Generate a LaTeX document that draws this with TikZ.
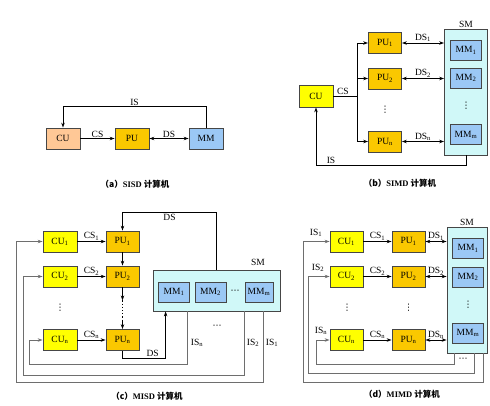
\documentclass[tikz,border=0pt]{standalone}
\usepackage{fontspec}
\setmainfont{Liberation Serif}
\newfontfamily\cjk{Noto Sans CJK SC}
\newfontfamily\symf{DejaVu Sans}
\usetikzlibrary{arrows.meta}
\definecolor{cuorange}{RGB}{255,200,150}
\definecolor{puyellow}{RGB}{250,200,0}
\definecolor{cuyellow}{RGB}{255,255,0}
\definecolor{mmblue}{RGB}{155,200,245}
\definecolor{smcyan}{RGB}{208,248,248}
\definecolor{edge}{RGB}{70,70,70}
\definecolor{back}{RGB}{110,110,110}
\newcommand{\ix}[1]{\textsubscript{#1}}
\newcommand{\vdot}{{\symf ⋮}}
\newcommand{\hdot}{{\symf ⋯}}
\tikzset{every picture/.style={line width=0.8pt}}

\begin{document}
\begin{tikzpicture}[x=1pt,y=1pt,yscale=-1,xscale=1,
  unit/.style={draw=edge, minimum width=33pt, minimum height=21pt, inner sep=0pt, font=\fontsize{9.5}{10}\selectfont},
  cubox/.style={unit, fill=cuyellow},
  pubox/.style={unit, fill=puyellow},
  mmbox/.style={unit, fill=mmblue, minimum width=31pt, minimum height=20pt},
  smbox/.style={draw=edge, fill=smcyan, inner sep=0pt},
  sig/.style={-{Stealth[length=5pt,width=3.5pt]}},
  duplex/.style={{Stealth[length=5pt,width=3.5pt]}-{Stealth[length=5pt,width=3.5pt]}},
  ret/.style={draw=back},
  lbl/.style={font=\fontsize{9.5}{10}\selectfont, inner sep=1pt},
  dots/.style={font=\fontsize{9}{9}\selectfont, inner sep=0pt},
  figcap/.style={font=\fontsize{8.5}{9}\selectfont\bfseries}]
\useasboundingbox (0,0) rectangle (490,405);

% (a) SISD
\node[unit, fill=cuorange, minimum width=34pt] (cuA) at (63,138.5) {CU};
\node[pubox, minimum width=34pt] (puA) at (132,138.5) {PU};
\node[mmbox, minimum width=34pt, minimum height=21pt] (mmA) at (206,138.5) {MM};
\draw[sig] (cuA) -- node[lbl, above] {CS} (puA);
\draw[duplex] (puA) -- node[lbl, above] {DS} (mmA);
\draw[sig] (mmA.north) -- ++(0,-21) -| node[lbl, above, pos=0.25] {IS} (cuA.north);
\node[figcap] (capA) at (135,184) {{\cjk （a）}SISD {\cjk 计算机}};

% (b) SIMD
\node[cubox, minimum width=34pt, minimum height=22pt] (cuB) at (316,96) {CU};
\node[pubox] (puB1) at (385,43) {PU\ix{1}};
\node[pubox] (puB2) at (385,78.5) {PU\ix{2}};
\node[pubox] (puBn) at (385,141.5) {PU\ix{n}};
\node[dots] (dotB1) at (385,110) {\vdot};
\node[smbox, minimum width=43pt, minimum height=126pt] (smB) at (466,92) {};
\node[lbl, above] (smBt) at (smB.north) {SM};
\node[mmbox] (mmB1) at (466,50.5) {MM\ix{1}};
\node[mmbox] (mmB2) at (466,78) {MM\ix{2}};
\node[mmbox] (mmBm) at (466,134.5) {MM\ix{m}};
\node[dots] (dotB2) at (466,106) {\vdot};
\coordinate (brB) at (357,96);
\draw (cuB.east) -- node[lbl, above, pos=0.4] {CS} (brB);
\draw (brB |- puB1.west) -- (brB |- puBn.west);
\foreach \p/\i in {puB1/1, puB2/2, puBn/n} {
  \draw[sig] (brB |- \p.west) -- (\p.west);
  \draw[duplex] (\p.east) -- node[lbl, above] {DS\ix{\i}} (\p.east -| smB.west);
}
\draw[sig] (smB.south) -- ++(0,10) -| node[lbl, above, pos=0.45] {IS} (cuB.south);
\node[figcap] (capB) at (400,183) {{\cjk （b）}SIMD {\cjk 计算机}};

% (c) MISD
\node[cubox, minimum width=34pt] (cuC1) at (60,241.5) {CU\ix{1}};
\node[cubox, minimum width=34pt] (cuC2) at (60,276.5) {CU\ix{2}};
\node[cubox, minimum width=34pt] (cuCn) at (60,340) {CU\ix{n}};
\node[dots] (dotC1) at (60,308) {\vdot};
\node[pubox] (puC1) at (122.5,241.5) {PU\ix{1}};
\node[pubox] (puC2) at (122.5,276.5) {PU\ix{2}};
\node[pubox] (puCn) at (122.5,340) {PU\ix{n}};
\foreach \i in {1,2,n} {
  \draw[sig] (cuC\i) -- node[lbl, above] {CS\ix{\i}} (puC\i);
}
\draw[sig] (puC1) -- (puC2);
\draw[sig] (puC2.south) -- ++(0,13) coordinate (pdC);
\draw[dotted, line width=1.2pt] (pdC) -- ++(0,21) coordinate (pdC2);
\draw[sig] (pdC2) -- (puCn.north);
\node[smbox, minimum width=127pt, minimum height=41pt] (smC) at (216.5,290.5) {};
\node[lbl] (smCt) at (258,262) {SM};
\node[mmbox] (mmC1) at (174,292) {MM\ix{1}};
\node[mmbox] (mmC2) at (210.5,292) {MM\ix{2}};
\node[dots] (dotC2) at (235,292) {\hdot};
\node[mmbox, minimum width=28pt] (mmCm) at (259,292) {MM\ix{m}};
\draw[sig] (smC.north) -- ++(0,-57) -| node[lbl, below, pos=0.25] {DS} (puC1.north);
\draw[sig] (puCn.south) -- ++(0,7) -| node[lbl, above, pos=0.35] {DS} ([xshift=13pt]smC.south west);
\draw[sig, ret] ([xshift=35pt]smC.south west) -- ++(0,53) -| ([xshift=-13pt]cuCn.west) -- (cuCn.west);
\draw[sig, ret] ([xshift=92pt]smC.south west) -- ++(0,64) -| ([xshift=-19pt]cuC2.west) -- (cuC2.west);
\draw[sig, ret] ([xshift=111pt]smC.south west) -- ++(0,71) -| ([xshift=-26pt]cuC1.west) -- (cuC1.west);
\node[lbl] (isCn) at (197,343) {IS\ix{n}};
\node[lbl] (isC2) at (253,343) {IS\ix{2}};
\node[lbl] (isC1) at (272,343) {IS\ix{1}};
\node[dots] (dotC3) at (217,327) {\hdot};
\node[figcap] (capC) at (147,396) {{\cjk （c）}MISD {\cjk 计算机}};

% (d) MIMD
\node[cubox] (cuD1) at (346.5,241.5) {CU\ix{1}};
\node[cubox] (cuD2) at (346.5,276.5) {CU\ix{2}};
\node[cubox] (cuDn) at (346.5,340) {CU\ix{n}};
\node[dots] (dotD1) at (347,308) {\vdot};
\node[pubox] (puD1) at (408.5,241.5) {PU\ix{1}};
\node[pubox] (puD2) at (408.5,276.5) {PU\ix{2}};
\node[pubox] (puDn) at (408.5,340) {PU\ix{n}};
\node[dots] (dotD2) at (408.5,308) {\vdot};
\node[smbox, minimum width=40pt, minimum height=126pt] (smD) at (467,290) {};
\node[lbl, above] (smDt) at (smD.north) {SM};
\node[mmbox] (mmD1) at (468,248.5) {MM\ix{1}};
\node[mmbox] (mmD2) at (468,277) {MM\ix{2}};
\node[mmbox] (mmDm) at (468,333) {MM\ix{m}};
\node[dots] (dotD3) at (468,305) {\vdot};
\foreach \i in {1,2,n} {
  \draw[sig] (cuD\i) -- node[lbl, above] {CS\ix{\i}} (puD\i);
  \draw[duplex] (puD\i.east) -- node[lbl, above] {DS\ix{\i}} (puD\i.east -| smD.west);
}
\draw[sig, ret] ([xshift=8pt]smD.south west) -- ++(0,11) -| ([xshift=-13pt]cuDn.west) -- (cuDn.west);
\draw[sig, ret] ([xshift=28pt]smD.south west) -- ++(0,20) -| ([xshift=-21pt]cuD2.west) -- (cuD2.west);
\draw[sig, ret] ([xshift=37pt]smD.south west) -- ++(0,29) -| ([xshift=-26pt]cuD1.west) -- (cuD1.west);
\node[lbl] (isD1) at (316,233) {IS\ix{1}};
\node[lbl] (isD2) at (318,268) {IS\ix{2}};
\node[lbl] (isDn) at (321,331) {IS\ix{n}};
\node[dots] (dotD4) at (463,360) {\hdot};
\node[figcap] (capD) at (402,394) {{\cjk （d）}MIMD {\cjk 计算机}};

\end{tikzpicture}
\end{document}
